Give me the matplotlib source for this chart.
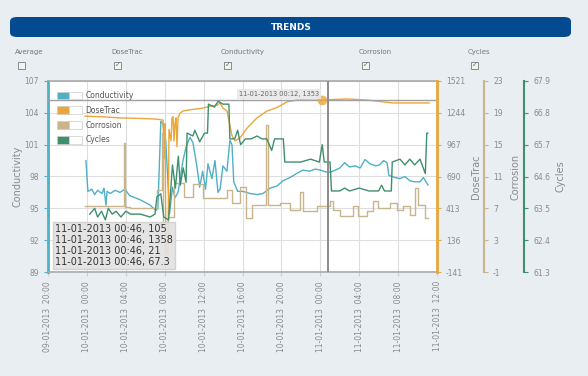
import pandas as pd
import matplotlib
matplotlib.use('Agg')
import matplotlib.pyplot as plt
import matplotlib.dates as mdates
from matplotlib.patches import Patch, FancyBboxPatch, Rectangle
from matplotlib.legend_handler import HandlerTuple

plt.rcParams['axes.unicode_minus'] = False

# time axis: hours after 09-01-2013 20:00
start = pd.Timestamp('2013-01-09 20:00')

cond_hours = [3.9, 4.1, 4.5, 4.8, 5.1, 5.55, 5.76, 5.96, 6.07, 6.4, 6.9, 7.4, 7.9, 8.4, 9.5,
              10.5, 11.1, 11.3, 11.6, 11.8, 12.1, 12.5, 12.8, 13.06, 13.37, 13.88, 14.2,
              14.6, 14.9, 15.3, 15.6, 15.9, 16.2, 16.45, 16.86, 17.17, 17.48, 17.69,
              17.99, 18.4, 18.7, 18.92, 19.1, 19.5, 20.05, 20.77, 21.49, 22.11, 22.83,
              23.55, 24.16, 24.88, 25.6, 26.2, 26.9, 27.5, 28.0, 28.7, 29.0, 29.3, 30.0,
              30.5, 31.0, 31.6, 32.1, 32.6, 33.1, 33.7, 34.1, 34.5, 34.86, 35.06, 35.7,
              36.2, 36.7, 37.2, 37.7, 38.25, 38.6, 39.07]
cond_vals = [99.5, 96.6, 96.8, 96.3, 96.7, 96.4, 96.9, 95.3, 96.6, 96.4, 96.7, 96.5, 96.8, 96.2, 95.8,
             95.3, 94.8, 95.0, 103.2, 103.0, 101.5, 94.5, 97.0, 96.0, 96.5, 99.5, 100.8,
             101.7, 101.2, 99.0, 97.0, 98.5, 96.8, 99.2, 97.8, 99.5, 96.5, 96.8,
             99.0, 98.5, 101.4, 101.0, 97.5, 96.6, 96.6, 96.4, 96.3, 96.4, 96.9,
             97.1, 97.6, 97.9, 98.3, 98.6, 98.5, 98.7, 98.6, 98.4, 98.4, 98.5, 98.8,
             99.3, 98.9, 99.0, 98.8, 99.6, 99.2, 99.0, 99.1, 99.5, 99.3, 98.1, 97.9,
             97.8, 98.0, 97.6, 97.5, 97.5, 97.9, 97.2]

dose_hours = [3.8, 5.4, 7.4, 9.5, 11.0, 11.5, 11.83, 11.93, 12.03, 12.13, 12.34, 12.44, 12.65,
              12.75, 12.85, 12.96, 13.06, 13.16, 13.26, 13.37, 13.57, 13.88, 14.6, 15.9, 16.66,
              17.38, 17.69, 17.99, 18.41, 18.92, 19.23, 19.74, 20.46, 21.49, 22.52, 23.55,
              24.58, 25.6, 26.22, 27.97, 28.77, 30.75, 32.8, 35.48, 37.53, 39.18]
dose_vals = [1215, 1210, 1200, 1195, 1190, 1185, 1180, 850, 1150, 20, 20, 1100, 1000,
             1200, 1210, 1000, 1150, 1200, 950, 1200, 1240, 1260, 1270, 1285, 1300,
             1310, 1330, 1285, 1260, 1045, 1000, 1025, 1110, 1200, 1260, 1290,
             1340, 1355, 1355, 1353, 1358, 1365, 1355, 1330, 1330, 1330]

corr_hours = [3.8, 7.8, 7.95, 8.4, 11.2, 11.7, 11.85, 12.34, 13.0, 14.0, 14.9, 15.9, 18.4, 18.9,
              19.7, 20.4, 21.0, 22.45, 22.6, 23.9, 24.9, 25.9, 26.2, 27.7, 29.0, 29.3, 30.0,
              31.4, 31.9, 32.8, 33.4, 33.9, 35.2, 35.9, 36.5, 37.2, 37.7, 38.0, 38.8, 39.1]
corr_vals = [7.3, 15.2, 7.2, 7.0, 9.3, 16.5, 4.5, 5.9, 10.2, 8.4, 10.0, 8.3, 9.3, 7.7,
             9.7, 5.8, 7.4, 17.5, 7.4, 7.7, 6.8, 9.0, 6.7, 7.3, 7.9, 6.8, 6.0,
             7.3, 6.0, 6.7, 7.9, 7.0, 7.7, 6.8, 7.3, 6.2, 9.5, 7.4, 5.8, 5.8]

cyc_hours = [4.3, 4.8, 5.1, 5.5, 5.9, 6.2, 6.6, 7.0, 7.5, 8.0, 8.5, 9.5, 10.5, 11.0, 11.2, 11.6,
             11.9, 12.4, 12.8, 13.1, 13.4, 13.6, 13.9, 14.2, 14.3, 14.9, 15.1, 15.6, 16.1,
             16.4, 16.5, 17.1, 17.5, 18.0, 18.6, 18.7, 19.2, 19.5, 19.8, 20.3, 20.9, 21.5,
             22.0, 22.5, 23.0, 23.3, 24.2, 24.35, 25.0, 26.0, 27.0, 27.9, 28.2, 28.4, 29.0,
             29.15, 30.0, 30.5, 31.0, 32.0, 33.0, 34.0, 34.3, 34.6, 35.3, 35.4, 36.2, 36.7,
             37.2, 37.7, 38.25, 38.8, 38.95, 39.05]
cyc_vals = [63.3, 63.5, 63.2, 63.4, 63.1, 63.5, 63.3, 63.4, 63.2, 63.4, 63.3, 63.3, 63.2, 63.3, 63.9, 64.0,
            63.2, 63.1, 65.0, 64.2, 65.3, 64.3, 64.9, 64.4, 66.1, 66.0, 66.2, 65.8, 66.1,
            66.1, 67.1, 67.0, 67.2, 67.1, 67.1, 65.9, 65.9, 66.2, 65.7, 65.9, 65.9, 66.0,
            65.9, 65.9, 65.5, 65.9, 65.9, 65.1, 65.1, 65.1, 65.2, 65.1, 65.7, 65.1, 65.1,
            64.1, 64.1, 64.2, 64.1, 64.2, 64.1, 64.1, 64.3, 64.1, 64.1, 65.1, 65.2, 65.0,
            65.2, 65.0, 65.2, 64.7, 66.1, 66.1]

cond_ticks = [89, 92, 95, 98, 101, 104, 107]
dose_ticks = [-141, 136, 413, 690, 967, 1244, 1521]
corr_ticks = [-1, 3, 7, 11, 15, 19, 23]
cyc_ticks = [61.3, 62.4, 63.5, 64.6, 65.7, 66.8, 67.9]

series_names = ['Conductivity', 'DoseTrac', 'Corrosion', 'Cycles']
checkbox_names = ['Average', 'DoseTrac', 'Conductivity', 'Corrosion', 'Cycles']
checkbox_on = [False, True, True, True, True]
tooltip_lines = ['11-01-2013 00:46, 105', '11-01-2013 00:46, 1358',
                 '11-01-2013 00:46, 21', '11-01-2013 00:46, 67.3']
cross_hour = 28.77
hover_hour, hover_val = 28.2, 1353

c_cond = '#4fb0c6'
c_dose = '#eba63a'
c_corr = '#c9b58c'
c_cyc = '#3f8f6c'
grey = '#8a8a8a'

def to_time(hours):
    return start + pd.to_timedelta(hours, unit='h')

W, H = 588, 376
fig = plt.figure(figsize=(W / 100, H / 100), dpi=100)
fig.patch.set_facecolor('#e9eef3')

# title bar
fig.patches.append(FancyBboxPatch((10 / W, 1 - 37 / H), 561 / W, 20 / H,
                                  boxstyle='round,pad=0,rounding_size=0.012',
                                  transform=fig.transFigure, facecolor='#034a91',
                                  edgecolor='none'))
fig.text(291 / W, 1 - 27 / H, 'TRENDS', color='white', fontsize=6.5,
         fontweight='bold', ha='center', va='center')

# checkboxes row
for name, on, xl in zip(checkbox_names, checkbox_on, [15, 111, 221, 359, 468]):
    fig.text(xl / W, 1 - 52 / H, name, fontsize=5, color='#777777', va='center')
    fig.patches.append(Rectangle(((xl + 3) / W, 1 - 69 / H), 7 / W, 7 / H,
                                 transform=fig.transFigure, facecolor='#f3f5f3',
                                 edgecolor='#7a7a7a', lw=0.6))
    if on:
        fig.text((xl + 6.5) / W, 1 - 65.5 / H, '\u2713', fontsize=5, color='#3a8a3a',
                 ha='center', va='center')

ax = fig.add_axes([48 / W, 1 - 272 / H, 389 / W, 191 / H])
ax.set_facecolor('white')
ax2 = ax.twinx()
ax3 = ax.twinx()
ax4 = ax.twinx()
for a in (ax2, ax3, ax4):
    a.patch.set_visible(False)
    for s in a.spines.values():
        s.set_visible(False)

ax.plot(to_time(cond_hours), cond_vals, color=c_cond, lw=1)
ax2.plot(to_time(dose_hours), dose_vals, color=c_dose, lw=1)
ax3.plot(to_time(corr_hours), corr_vals, color=c_corr, lw=1, drawstyle='steps-post')
ax4.plot(to_time(cyc_hours), cyc_vals, color=c_cyc, lw=1)

ax.set_xlim(start, to_time(40))
ax.set_ylim(89, 107)
ax2.set_ylim(-141, 1521)
ax3.set_ylim(-1, 23)
ax4.set_ylim(61.3, 67.9)

ax.set_yticks(cond_ticks)
ax2.set_yticks(dose_ticks)
ax3.set_yticks(corr_ticks)
ax4.set_yticks(cyc_ticks)
ax4.set_yticklabels(['%.1f' % v for v in cyc_ticks])

ax.xaxis.set_major_locator(mdates.HourLocator(byhour=[0, 4, 8, 12, 16, 20]))
ax.xaxis.set_major_formatter(mdates.DateFormatter('%d-%m-%Y  %H:%M'))
ax.tick_params(axis='x', rotation=90, labelsize=5.5, colors=grey, length=3, color='#cccccc')
ax.grid(True, color='#dedede', lw=0.8)

# spines and y axes
ax.spines['left'].set_color(c_cond)
ax.spines['left'].set_linewidth(2)
ax.spines['right'].set_visible(False)
for s in ('top', 'bottom'):
    ax.spines[s].set_color('#aaaaaa')
    ax.spines[s].set_linewidth(1.2)
ax.tick_params(axis='y', labelsize=5.5, colors=grey, length=3, color=c_cond)

ax2.spines['right'].set_visible(True)
ax2.spines['right'].set_color(c_dose)
ax2.spines['right'].set_linewidth(2)
ax2.tick_params(axis='y', labelsize=5.5, colors=grey, length=3, color=c_dose)

ax3.spines['right'].set_visible(True)
ax3.spines['right'].set_position(('axes', 1.121))
ax3.spines['right'].set_color(c_corr)
ax3.spines['right'].set_linewidth(1.5)
ax3.tick_params(axis='y', labelsize=5.5, colors=grey, length=3, color=c_corr)

ax4.spines['right'].set_visible(True)
ax4.spines['right'].set_position(('axes', 1.224))
ax4.spines['right'].set_color(c_cyc)
ax4.spines['right'].set_linewidth(1.5)
ax4.tick_params(axis='y', labelsize=5.5, colors=grey, length=3, color=c_cyc)

ax.set_ylabel('Conductivity', color=grey, fontsize=7)
ax.yaxis.set_label_coords(-0.066, 0.5)
ax2.set_ylabel('DoseTrac', color=grey, fontsize=7)
ax2.yaxis.set_label_coords(1.087, 0.5)
ax3.set_ylabel('Corrosion', color=grey, fontsize=7)
ax3.yaxis.set_label_coords(1.19, 0.5)
ax4.set_ylabel('Cycles', color=grey, fontsize=7)
ax4.yaxis.set_label_coords(1.305, 0.5)

# crosshair and hover point
ax4.axvline(to_time(cross_hour), color='#8c8c8c', lw=1.4, zorder=5)
ax2.axhline(hover_val, color='#a0a0a0', lw=1)
ax2.plot([to_time(hover_hour)], [hover_val], 'o', color=c_dose, ms=7, alpha=0.8, mec='none')
ax4.annotate('11-01-2013 00:12, %d' % hover_val, xy=(to_time(hover_hour), 1 - 19 / 191),
             xycoords=('data', 'axes fraction'), xytext=(-3, 3), textcoords='offset pixels',
             ha='right', va='bottom', fontsize=4.8, color='#666666', zorder=10,
             bbox=dict(facecolor='#e8e8e8', edgecolor='none', alpha=0.9, pad=1.5))

# legend
handles = [(Patch(facecolor=c, edgecolor='#cccccc', lw=0.5),
            Patch(facecolor='white', edgecolor='#cccccc', lw=0.5))
           for c in (c_cond, c_dose, c_corr, c_cyc)]
leg = ax4.legend(handles, series_names, handler_map={tuple: HandlerTuple(ndivide=None, pad=0)},
                 loc='upper left', bbox_to_anchor=(0.01, 0.975), frameon=False, fontsize=5.5,
                 handlelength=3.2, handleheight=1.2, labelspacing=0.75, handletextpad=0.5,
                 borderpad=0.2, labelcolor='#555555')
leg.set_zorder(11)

# value tooltip
ax4.text(0.018, 0.025, '\n'.join(tooltip_lines), transform=ax4.transAxes, fontsize=7,
         color='#333333', ha='left', va='bottom', zorder=12, linespacing=1.15,
         bbox=dict(facecolor='#e2e2e2', edgecolor='#d0d0d0', alpha=0.92, pad=1.5))

fig.savefig('out.png', dpi=100, facecolor=fig.get_facecolor())
